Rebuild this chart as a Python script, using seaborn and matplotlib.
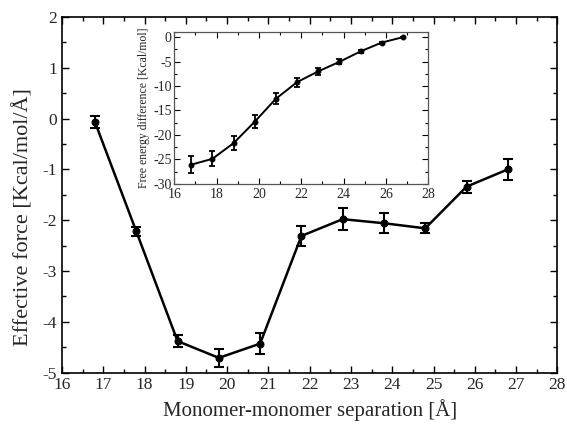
import numpy as np
import pandas as pd
import matplotlib
matplotlib.use("Agg")
import matplotlib.pyplot as plt
import seaborn as sns
from matplotlib.ticker import MultipleLocator

# Data
separation = [16.8, 17.8, 18.8, 19.8, 20.8, 21.8, 22.8, 23.8, 24.8, 25.8, 26.8]
force = [-0.07, -2.22, -4.38, -4.71, -4.43, -2.31, -1.98, -2.06, -2.16, -1.34, -1.0]
force_err = [0.125, 0.085, 0.115, 0.18, 0.2, 0.19, 0.22, 0.2, 0.1, 0.12, 0.2]
free_energy = [-26.1, -24.9, -21.7, -17.3, -12.6, -9.2, -7.0, -5.05, -2.9, -1.1, 0.0]
free_energy_err = [1.7, 1.5, 1.4, 1.3, 1.1, 0.9, 0.7, 0.5, 0.3, 0.2, 0.0]

main_xticks = list(range(16, 29))
main_yticks = [-5, -4, -3, -2, -1, 0, 1, 2]
inset_xticks = [16, 18, 20, 22, 24, 26, 28]
inset_yticks = [-30, -25, -20, -15, -10, -5, 0]

sns.set_style("ticks")
plt.rcParams['font.family'] = ['Liberation Serif', 'DejaVu Serif']
plt.rcParams['mathtext.fontset'] = 'stix'
plt.rcParams['axes.unicode_minus'] = False

df_main = pd.DataFrame({"x": separation, "y": force})
df_inset = pd.DataFrame({"x": separation, "y": free_energy})

fig = plt.figure(figsize=(5.67, 4.24), dpi=100)
ax = fig.add_axes([0.1093, 0.1212, 0.8737, 0.8388])

sns.lineplot(data=df_main, x="x", y="y", ax=ax, color="black", linewidth=1.8,
             marker="o", markersize=5, markeredgecolor="black")
ax.errorbar(separation, force, yerr=force_err, fmt="none", ecolor="black",
            elinewidth=1.5, capsize=3.5, capthick=1.5)

ax.set_xlim(16, 28)
ax.set_ylim(-5, 2)
ax.set_xticks(main_xticks)
ax.set_yticks(main_yticks)
ax.xaxis.set_minor_locator(MultipleLocator(0.5))
ax.yaxis.set_minor_locator(MultipleLocator(0.5))
ax.tick_params(which="both", direction="in", top=True, right=True, labelsize=12.5,
               width=1, color="black")
ax.tick_params(which="major", length=5)
ax.tick_params(which="minor", length=3)
ax.set_xlabel("Monomer-monomer separation [Å]", fontsize=15, labelpad=4)
ax.set_ylabel("Effective force [Kcal/mol/Å]", fontsize=16)
ax.yaxis.set_label_coords(-0.058, 0.438)
for s in ax.spines.values():
    s.set_linewidth(1.2)
    s.set_color("black")

# Inset
ins = fig.add_axes([0.3074, 0.5667, 0.448, 0.3571])
sns.lineplot(data=df_inset, x="x", y="y", ax=ins, color="black", linewidth=1.4,
             marker="o", markersize=3.5, markeredgecolor="black")
ins.errorbar(separation, free_energy, yerr=free_energy_err, fmt="none", ecolor="black",
             elinewidth=1.3, capsize=2.5, capthick=1.3)
ins.set_xlim(16, 28)
ins.set_ylim(-30, 1)
ins.set_xticks(inset_xticks)
ins.set_yticks(inset_yticks)
ins.xaxis.set_minor_locator(MultipleLocator(1))
ins.yaxis.set_minor_locator(MultipleLocator(2.5))
ins.tick_params(which="both", direction="in", top=True, right=True, labelsize=10,
                width=0.8, color="black")
ins.tick_params(axis="x", pad=3)
ins.tick_params(axis="y", pad=2)
ins.tick_params(which="major", length=4)
ins.tick_params(which="minor", length=2)
ins.set_xlabel("")
ins.set_ylabel("Free energy difference [Kcal/mol]", fontsize=8.5, labelpad=2)
for s in ins.spines.values():
    s.set_linewidth(0.9)
    s.set_color("#555555")

fig.savefig("out.png", dpi=100)
